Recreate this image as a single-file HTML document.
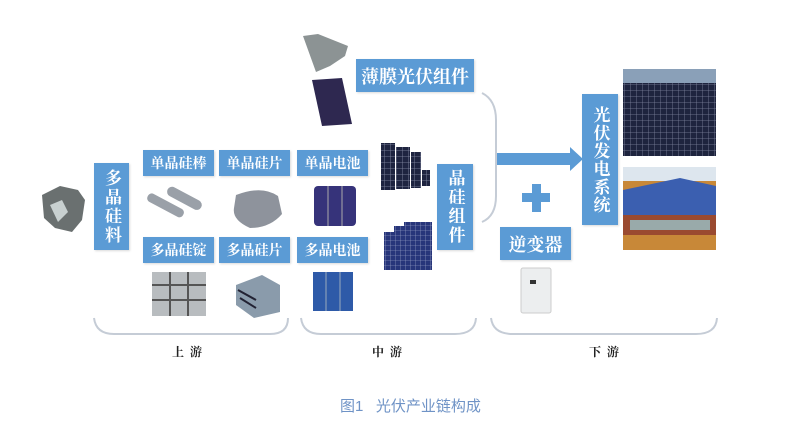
<!DOCTYPE html>
<html><head><meta charset="utf-8"><style>
html,body{margin:0;padding:0;background:#fff}
#c{position:relative;width:800px;height:422px;overflow:hidden;font-family:"Liberation Serif","Noto Serif CJK SC",serif}
.b{position:absolute;background:#5b9bd5;color:#fff;font-weight:bold;display:flex;align-items:center;justify-content:center;box-shadow:1px 1px 2px rgba(0,0,0,.15)}
.h{font-size:14px}
.v{writing-mode:vertical-rl;font-size:17px;letter-spacing:2px}
.i{position:absolute}
.lbl{position:absolute;font-size:12px;font-weight:bold;color:#222;letter-spacing:6px}
</style></head><body><div id="c">
<svg class="i" style="left:0;top:0" width="800" height="422">
<defs>
<pattern id="cell" width="6" height="6" patternUnits="userSpaceOnUse"><rect width="6" height="6" fill="#1e2440"/><path d="M0 0H6M0 0V6" stroke="#8a90a8" stroke-width="0.8"/></pattern>
<pattern id="cell2" width="5" height="5" patternUnits="userSpaceOnUse"><rect width="5" height="5" fill="#27357a"/><path d="M0 0H5M0 0V5" stroke="#a8b0d0" stroke-width="0.6"/></pattern>
</defs>
<path d="M42 195 L60 186 L78 190 L85 200 L82 220 L72 232 L55 228 L44 218Z" fill="#6a7070"/>
<path d="M50 205 L62 200 L68 212 L58 222Z" fill="#c8d0d0"/>
<g fill="#9aa0a8"><rect x="150" y="192" width="40" height="9" transform="rotate(28 150 192)" rx="4"/><rect x="170" y="185" width="38" height="10" transform="rotate(28 170 185)" rx="5"/></g>
<path d="M236 195 Q262 185 278 196 L282 214 Q270 228 250 228 Q232 220 234 208Z" fill="#8e939c"/>
<rect x="314" y="186" width="42" height="40" rx="4" fill="#36337a"/><path d="M328 186V226M342 186V226" stroke="#aaa" stroke-width="1"/>
<rect x="152" y="272" width="54" height="44" fill="#b8bcbf"/><path d="M152 285H206M152 300H206M170 272V316M188 272V316" stroke="#555" stroke-width="2"/>
<path d="M236 285 L262 275 L280 285 L280 312 L254 318 L236 305Z" fill="#8a9bab"/><path d="M238 290L256 300M240 298L256 308" stroke="#223" stroke-width="2"/>
<rect x="313" y="272" width="40" height="39" fill="#2e5aa8"/><path d="M326 272V311M340 272V311" stroke="#9ab" stroke-width="1"/>
<path d="M303 36 L318 34 L348 46 L345 56 L330 66 L316 72 Z" fill="#8c9394"/>
<path d="M312 80 L342 78 L352 124 L322 126Z" fill="#2e2850"/>
<rect x="381" y="143" width="14" height="47" fill="url(#cell)"/><rect x="396" y="147" width="14" height="42" fill="url(#cell)"/><rect x="411" y="152" width="10" height="36" fill="url(#cell)"/><rect x="422" y="170" width="8" height="16" fill="url(#cell)"/>
<rect x="384" y="232" width="10" height="38" fill="url(#cell2)"/><rect x="394" y="226" width="10" height="44" fill="url(#cell2)"/><rect x="404" y="222" width="28" height="48" fill="url(#cell2)"/>
<path d="M482 93 Q496 100 496 120 V196 Q496 216 482 222" fill="none" stroke="#c5ccd6" stroke-width="2"/>
<path d="M497 153 H570 V147 L583 159 L570 171 V165 H497Z" fill="#5b9bd5"/>
<rect x="532" y="184" width="9" height="28" fill="#5b9bd5"/><rect x="522" y="193" width="28" height="9" fill="#5b9bd5"/>
<rect x="623" y="69" width="93" height="87" fill="#1c2030"/><rect x="623" y="69" width="93" height="14" fill="#8aa0b8"/><rect x="623" y="83" width="93" height="73" fill="url(#cell)" opacity=".9"/>
<rect x="623" y="167" width="93" height="83" fill="#c88838"/><rect x="623" y="167" width="93" height="14" fill="#dde6ee"/><path d="M623 190 L680 178 L716 186 V215 H623Z" fill="#3b5fb0"/><rect x="623" y="215" width="93" height="20" fill="#9a4a30"/><rect x="630" y="220" width="80" height="10" fill="#9aa"/>
<rect x="521" y="268" width="30" height="45" rx="2" fill="#eceeef" stroke="#ccc"/><rect x="530" y="280" width="6" height="4" fill="#333"/>
<g fill="none" stroke="#c5ccd6" stroke-width="2">
<path d="M94 318 Q96 334 114 334 H270 Q288 334 288 318"/>
<path d="M301 318 Q303 334 321 334 H455 Q475 334 476 318"/>
<path d="M491 318 Q493 334 513 334 H696 Q716 334 717 318"/>
</g>
</svg>
<div class="b v" style="left:94px;top:163px;width:35px;height:87px">多晶硅料</div>
<div class="b h" style="left:143px;top:150px;width:71px;height:26px">单晶硅棒</div>
<div class="b h" style="left:219px;top:150px;width:71px;height:26px">单晶硅片</div>
<div class="b h" style="left:297px;top:150px;width:71px;height:26px">单晶电池</div>
<div class="b h" style="left:143px;top:237px;width:71px;height:26px">多晶硅锭</div>
<div class="b h" style="left:219px;top:237px;width:71px;height:26px">多晶硅片</div>
<div class="b h" style="left:297px;top:237px;width:71px;height:26px">多晶电池</div>
<div class="b" style="left:356px;top:59px;width:118px;height:33px;font-size:18px">薄膜光伏组件</div>
<div class="b v" style="left:437px;top:164px;width:36px;height:86px">晶硅组件</div>
<div class="b v" style="left:582px;top:94px;width:36px;height:131px;letter-spacing:1px">光伏发电系统</div>
<div class="b" style="left:500px;top:227px;width:71px;height:33px;font-size:18px">逆变器</div>
<div class="lbl" style="left:172px;top:343px">上游</div>
<div class="lbl" style="left:372px;top:343px">中游</div>
<div class="lbl" style="left:589px;top:343px">下游</div>
<div style="position:absolute;left:340px;top:395px;font-family:'Liberation Sans','Noto Sans CJK SC',sans-serif;font-size:15px;color:#6f93c6">图1&nbsp;&nbsp;&nbsp;光伏产业链构成</div>
</div></body></html>
